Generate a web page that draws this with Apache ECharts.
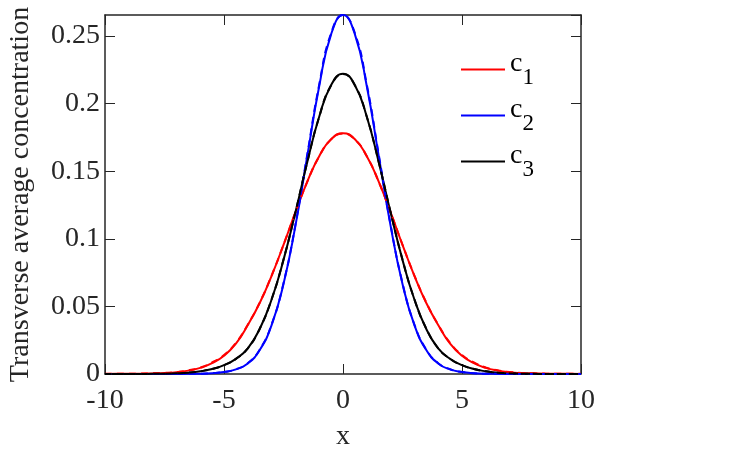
<!DOCTYPE html>
<html>
<head>
<meta charset="utf-8">
<script src="https://cdn.jsdelivr.net/npm/echarts@6/dist/echarts.min.js"></script>
<style>
html, body { margin: 0; padding: 0; background: #fff; }
#main { width: 731px; height: 476px; }
</style>
</head>
<body>
<div id="main"></div>
<script>
// x positions (step 0.5)
var xVals = [-10, -9.5, -9, -8.5, -8, -7.5, -7, -6.5, -6, -5.5, -5, -4.5, -4, -3.5, -3, -2.5, -2, -1.5, -1, -0.5,
  0, 0.5, 1, 1.5, 2, 2.5, 3, 3.5, 4, 4.5, 5, 5.5, 6, 6.5, 7, 7.5, 8, 8.5, 9, 9.5, 10];

// solid curves
var c1 = [0.0000, 0.0001, 0.0001, 0.0002, 0.0004, 0.0007, 0.0013, 0.0025, 0.0045, 0.0080, 0.0135, 0.0225, 0.0362, 0.0525, 0.0726, 0.0955, 0.1195, 0.1423, 0.1611, 0.1736,
  0.1780, 0.1736, 0.1611, 0.1423, 0.1195, 0.0955, 0.0726, 0.0525, 0.0362, 0.0225, 0.0135, 0.0080, 0.0045, 0.0025, 0.0013, 0.0007, 0.0004, 0.0002, 0.0001, 0.0001, 0.0000];
var c2 = [0, 0, 0, 0, 0, 0, 0, 0.0001, 0.0002, 0.0006, 0.0015, 0.0034, 0.0078, 0.0177, 0.0362, 0.0666, 0.1095, 0.1613, 0.2128, 0.2512,
  0.2655, 0.2512, 0.2128, 0.1613, 0.1095, 0.0666, 0.0362, 0.0177, 0.0078, 0.0034, 0.0015, 0.0006, 0.0002, 0.0001, 0, 0, 0, 0, 0, 0, 0];
var c3 = [0, 0, 0, 0, 0.0001, 0.0002, 0.0005, 0.0010, 0.0020, 0.0037, 0.0066, 0.0112, 0.0190, 0.0333, 0.0551, 0.0844, 0.1195, 0.1567, 0.1902, 0.2136,
  0.2220, 0.2136, 0.1902, 0.1567, 0.1195, 0.0844, 0.0551, 0.0333, 0.0190, 0.0112, 0.0066, 0.0037, 0.0020, 0.0010, 0.0005, 0.0002, 0.0001, 0, 0, 0, 0];

// dashed curves
var c1d = [0.0001, 0.0001, 0.0002, 0.0003, 0.0005, 0.0008, 0.0015, 0.0027, 0.0048, 0.0085, 0.0140, 0.0230, 0.0365, 0.0528, 0.0728, 0.0956, 0.1195, 0.1422, 0.1610, 0.1735,
  0.1779, 0.1735, 0.1610, 0.1422, 0.1195, 0.0956, 0.0728, 0.0528, 0.0365, 0.0230, 0.0140, 0.0085, 0.0048, 0.0027, 0.0015, 0.0008, 0.0005, 0.0003, 0.0002, 0.0001, 0.0001];
var c2d = [0, 0, 0, 0, 0, 0, 0, 0.0001, 0.0002, 0.0006, 0.0015, 0.0035, 0.0080, 0.0180, 0.0366, 0.0672, 0.1103, 0.1625, 0.2140, 0.2520,
  0.2655, 0.2520, 0.2140, 0.1625, 0.1103, 0.0672, 0.0366, 0.0180, 0.0080, 0.0035, 0.0015, 0.0006, 0.0002, 0.0001, 0, 0, 0, 0, 0, 0, 0];
var c3d = [0, 0, 0, 0, 0.0001, 0.0002, 0.0005, 0.0010, 0.0020, 0.0037, 0.0066, 0.0112, 0.0190, 0.0335, 0.0553, 0.0846, 0.1197, 0.1568, 0.1902, 0.2135,
  0.2219, 0.2135, 0.1902, 0.1568, 0.1197, 0.0846, 0.0553, 0.0335, 0.0190, 0.0112, 0.0066, 0.0037, 0.0020, 0.0010, 0.0005, 0.0002, 0.0001, 0, 0, 0, 0];

var xTicks = [-10, 10, 5];     // min, max, interval
var yTicks = [0, 0.2655, 0.05];

function pairs(ys) {
  var out = [];
  for (var i = 0; i < xVals.length; i++) out.push([xVals[i], ys[i]]);
  return out;
}

var font = "'Liberation Serif', 'Times New Roman', serif";
var axisColor = '#262626';
var fs = 28;

function xAxisDef(pos, labels) {
  return {
    type: 'value',
    position: pos,
    min: xTicks[0],
    max: xTicks[1],
    interval: xTicks[2],
    name: labels ? 'x' : '',
    nameLocation: 'middle',
    nameGap: 49,
    nameTextStyle: { fontFamily: font, fontSize: fs, color: axisColor },
    axisLine: { onZero: false, lineStyle: { color: axisColor, width: 1.5 } },
    axisTick: { inside: true, length: 10, lineStyle: { color: axisColor, width: 1 } },
    axisLabel: { show: labels, margin: 13, fontFamily: font, fontSize: fs, color: axisColor },
    splitLine: { show: false }
  };
}

function yAxisDef(pos, labels) {
  return {
    type: 'value',
    position: pos,
    min: yTicks[0],
    max: yTicks[1],
    interval: yTicks[2],
    name: labels ? 'Transverse average concentration' : '',
    nameLocation: 'middle',
    nameGap: 70,
    nameTextStyle: { fontFamily: font, fontSize: fs, color: axisColor },
    axisLine: { onZero: false, lineStyle: { color: axisColor, width: 1.5 } },
    axisTick: { inside: true, length: 10, lineStyle: { color: axisColor, width: 1 } },
    axisLabel: { show: labels, showMaxLabel: false, margin: 5, fontFamily: font, fontSize: fs, color: axisColor },
    splitLine: { show: false }
  };
}

function lineSeries(name, ys, color, dashed) {
  return {
    name: name,
    type: 'line',
    xAxisIndex: 0,
    yAxisIndex: 0,
    data: pairs(ys),
    smooth: true,
    symbol: 'none',
    lineStyle: { color: color, width: 2, type: dashed ? [7, 5] : 'solid' },
    itemStyle: { color: color },
    animation: false
  };
}

var chart = echarts.init(document.getElementById('main'));
chart.setOption({
  backgroundColor: '#fff',
  animation: false,
  grid: { left: 105, right: 150, top: 15, bottom: 102, containLabel: false, outerBoundsMode: 'none' },
  legend: {
    data: ['c1', 'c2', 'c3'],
    orient: 'vertical',
    left: 456,
    top: 45,
    icon: 'rect',
    itemWidth: 44,
    itemHeight: 2,
    itemGap: 7,
    formatter: function (name) {
      return '{c|c}{s|' + name.slice(1) + '}';
    },
    textStyle: {
      fontFamily: font,
      color: '#000',
      rich: {
        c: { fontFamily: font, fontSize: fs, lineHeight: 26, verticalAlign: 'top', color: '#000' },
        s: { fontFamily: font, fontSize: 23, lineHeight: 39, verticalAlign: 'bottom', color: '#000' }
      }
    }
  },
  xAxis: [xAxisDef('bottom', true), xAxisDef('top', false)],
  yAxis: [yAxisDef('left', true), yAxisDef('right', false)],
  series: [
    lineSeries('c1', c1, '#ff0000', false),
    lineSeries('c2', c2, '#0000ff', false),
    lineSeries('c3', c3, '#000000', false),
    lineSeries('c1 dashed', c1d, '#ff0000', true),
    lineSeries('c2 dashed', c2d, '#0000ff', true),
    lineSeries('c3 dashed', c3d, '#000000', true)
  ]
});
</script>
</body>
</html>
